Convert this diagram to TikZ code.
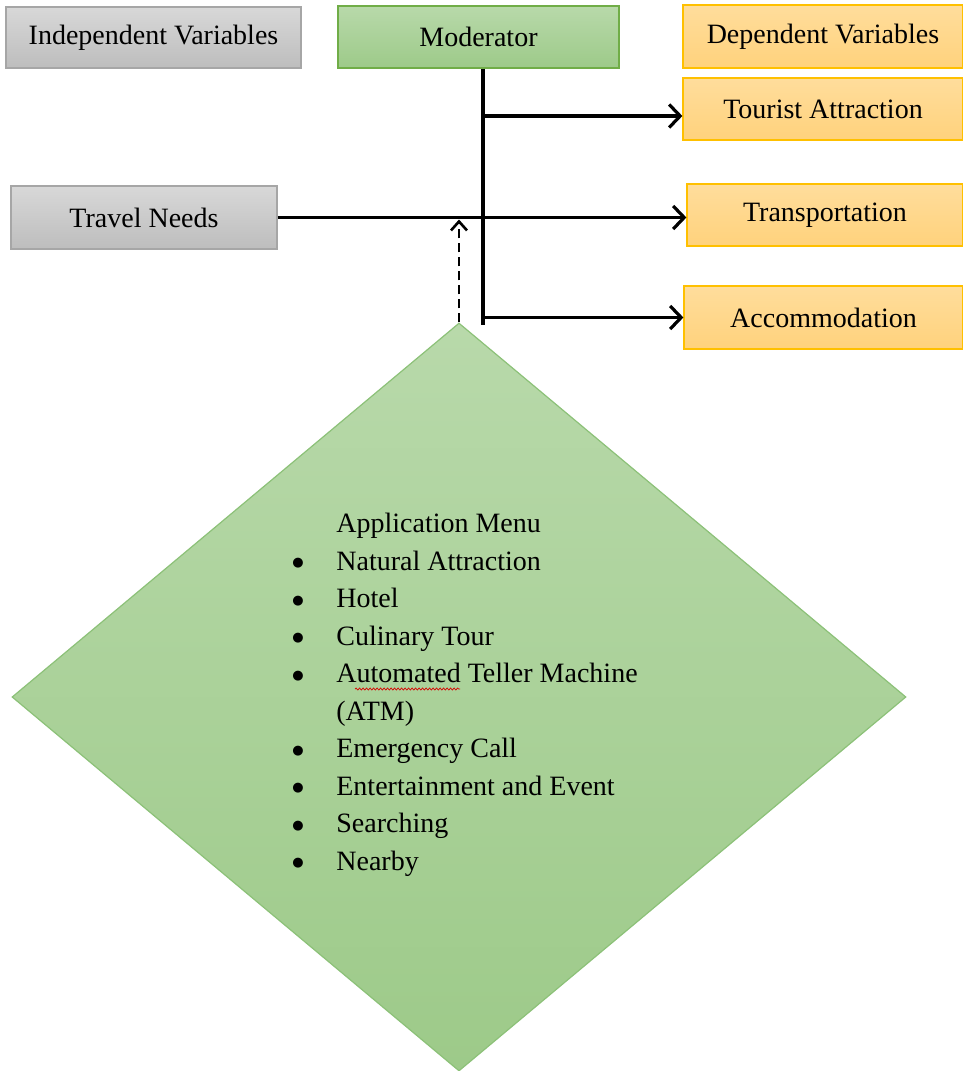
\documentclass[tikz,border=0pt]{standalone}
\usepackage{fontspec}
\setmainfont{Liberation Serif}
\newfontfamily\bulletfont{DejaVu Sans}
\usetikzlibrary{shapes.geometric,arrows.meta,decorations.pathmorphing}

\definecolor{greyTop}{HTML}{D8D8D8}
\definecolor{greyBot}{HTML}{BDBDBD}
\definecolor{greyLine}{HTML}{A6A6A6}
\definecolor{greenTop}{HTML}{B8D9AA}
\definecolor{greenBot}{HTML}{9DCA89}
\definecolor{greenLine}{HTML}{70AD47}
\definecolor{orangeTop}{HTML}{FFDD9C}
\definecolor{orangeBot}{HTML}{FFD27C}
\definecolor{orangeLine}{HTML}{FFC000}
\definecolor{diamLine}{HTML}{8CC178}

\newcommand{\menubullet}{\raisebox{3.5pt}{\bulletfont\fontsize{13}{13}\selectfont ●}}

\tikzset{
  box/.style={draw, line width=1.2pt, inner sep=0pt, font=\fontsize{28}{34}\selectfont},
  greybox/.style={box, draw=greyLine, top color=greyTop, bottom color=greyBot},
  greenbox/.style={box, draw=greenLine, top color=greenTop, bottom color=greenBot},
  orangebox/.style={box, draw=orangeLine, top color=orangeTop, bottom color=orangeBot},
  link/.style={line width=3.2pt},
  linkarrow/.style={link, -{Straight Barb[length=11pt,width=23pt,line width=3.2pt]}},
  dasharrow/.style={line width=2.6pt, dash pattern=on 9pt off 5pt, -{Straight Barb[length=9pt,width=16pt,line width=2.6pt]}, shorten >=2pt}
}

\begin{document}
\begin{tikzpicture}[x=1pt,y=-1pt]
	\useasboundingbox (0,0) rectangle (963,1071);

	% application menu diamond
	\node[diamond, draw=diamLine, line width=1.2pt, top color=greenTop, bottom color=greenBot,
	      minimum width=894pt, minimum height=748pt, inner sep=0pt] (diam) at (459,697) {};
	\node[inner sep=0pt, font=\fontsize{28}{37.5}\selectfont] (menu) at (465,694) {%
	\begin{tabular}{@{}p{44pt}@{}l@{}}
	            & Application Menu\\
	\menubullet & Natural Attraction\\
	\menubullet & Hotel\\
	\menubullet & Culinary Tour\\
	\menubullet & Automated Teller Machine\\
	            & (ATM)\\
	\menubullet & Emergency Call\\
	\menubullet & Entertainment and Event\\
	\menubullet & Searching\\
	\menubullet & Nearby
	\end{tabular}};
	\draw[red!85!black, line width=0.7pt, decorate, decoration={snake, amplitude=1pt, segment length=3.5pt}]
	      (355,689) -- (460,689);

	% top row
	\node[greybox, minimum width=295pt, minimum height=61pt] (indep) at (153.5,37.5) {Independent Variables};
	\node[greenbox, minimum width=281pt, minimum height=62pt] (moder) at (478.5,37) {Moderator};
	\node[orangebox, minimum width=280pt, minimum height=63pt] (dep) at (823,36.5) {Dependent Variables};

	% dependent variables
	\node[orangebox, minimum width=280pt, minimum height=62pt] (tour) at (823,109) {Tourist Attraction};
	\node[orangebox, minimum width=276pt, minimum height=62pt] (trans) at (825,215) {Transportation};
	\node[orangebox, minimum width=279pt, minimum height=63pt] (accom) at (823.5,317.5) {Accommodation};

	% independent variable
	\node[greybox, minimum width=266pt, minimum height=63pt] (travel) at (144,217.5) {Travel Needs};

	% moderator trunk and branches
	\coordinate (trunk) at (483,325);
	\coordinate (tourin) at ([yshift=-7pt]tour.west);
	\draw[link] (trunk |- moder.south) -- (trunk);
	\draw[linkarrow] (trunk |- tourin) -- (tourin);
	\draw[linkarrow] (trunk |- accom.west) -- (accom.west);
	\draw[linkarrow] (travel.east) -- (travel.east -| trans.west);

	% dashed moderating arrow
	\draw[dasharrow] (diam.north) -- (diam.north |- travel.east);
\end{tikzpicture}
\end{document}
